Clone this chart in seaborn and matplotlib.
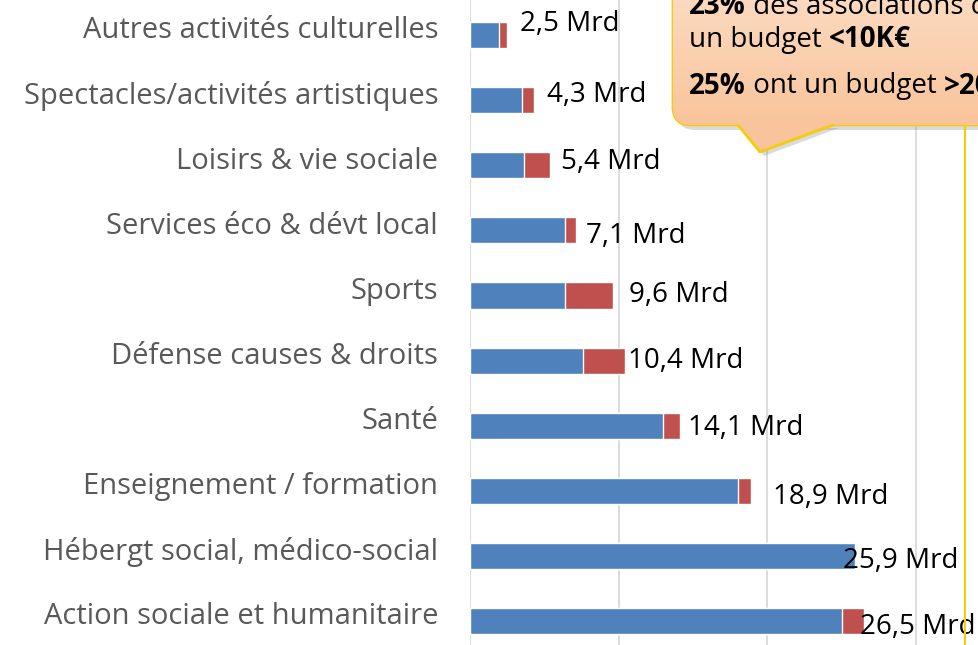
import numpy as np
import matplotlib.pyplot as plt
import seaborn as sns
from matplotlib.patches import FancyBboxPatch, Polygon
from matplotlib.colors import LinearSegmentedColormap

# Data (Mrd €)
categories = ["Autres activités culturelles", "Spectacles/activités artistiques",
              "Loisirs & vie sociale", "Services éco & dévt local", "Sports",
              "Défense causes & droits", "Santé", "Enseignement / formation",
              "Hébergt social, médico-social", "Action sociale et humanitaire"]
blue_part = [1.95, 3.5, 3.6, 6.4, 6.4, 7.6, 13.0, 18.0, 25.9, 25.0]
red_part = [0.55, 0.8, 1.8, 0.7, 3.2, 2.8, 1.1, 0.9, 0.0, 1.5]
value_labels = ["2,5 Mrd", "4,3 Mrd", "5,4 Mrd", "7,1 Mrd", "9,6 Mrd",
                "10,4 Mrd", "14,1 Mrd", "18,9 Mrd", "25,9 Mrd", "26,5 Mrd"]

# label nudges (pixels) as placed in the original
label_dx = [13, 13, 11, 10, 16, 3, 8, 22, -12, -4]
label_dy = [11, 5, 3, -6, 0, 0, -2, -6, -5, -6]

BLUE = "#4F81BD"
RED = "#C0504D"
YELLOW = "#F2CD0A"
FONT = "Open Sans"

totals = [b + r for b, r in zip(blue_part, red_part)]

sns.set_style("white")
plt.rcParams["font.family"] = [FONT, "DejaVu Sans"]

W, H = 979, 645
fig = plt.figure(figsize=(W / 100, H / 100), dpi=100)
ax = fig.add_axes([470 / W, 0, 1 - 470 / W, 1])

sns.barplot(x=totals, y=categories, orient="h", color=RED, saturation=1,
            width=0.4, ax=ax)
sns.barplot(x=blue_part, y=categories, orient="h", color=BLUE, saturation=1,
            width=0.4, ax=ax)

ax.set_xlim(0, (W - 470) / 14.87)
ax.set_ylim(9.37, -0.54)
ax.set_xticks([0, 10, 20, 30])
ax.set_xticklabels([])
ax.grid(axis="x", color="#D9D9D9", lw=1.3)
ax.set_axisbelow(True)
for s in ax.spines.values():
    s.set_visible(False)
ax.set_yticks(np.arange(len(categories)) - 0.12, categories)
ax.tick_params(axis="y", length=0, pad=23, labelsize=21, labelcolor="#595959")
ax.tick_params(axis="x", length=0)
ax.set_xlabel("")
ax.set_ylabel("")

for i, (tot, lbl) in enumerate(zip(totals, value_labels)):
    ax.annotate(lbl, xy=(tot, i), xytext=(label_dx[i], label_dy[i]),
                textcoords="offset pixels", ha="left", va="center",
                fontsize=20, color="black")

# callout overlay in pixel coords
ov = fig.add_axes([0, 0, 1, 1], zorder=5)
ov.set_xlim(0, W)
ov.set_ylim(H, 0)
ov.axis("off")
ov.patch.set_alpha(0)

bx, by, bw, bh = 673, -80, 420, 205
shadow = FancyBboxPatch((bx + 4, by + 5), bw, bh, boxstyle="round,pad=0,rounding_size=18",
                        fc="#999999", ec="none", alpha=0.35)
ov.add_patch(shadow)
ov.add_patch(Polygon([(742, 128), (764, 156), (839, 128)], fc="#999999", ec="none", alpha=0.35))

box = FancyBboxPatch((bx, by), bw, bh, boxstyle="round,pad=0,rounding_size=18",
                     fc="#FBD3B3", ec=YELLOW, lw=2)
ov.add_patch(box)
cmap = LinearSegmentedColormap.from_list("peach", ["#FDE7D6", "#F9C49B"])
grad = np.linspace(0, 1, 256).reshape(-1, 1)
img = ov.imshow(grad, cmap=cmap, extent=(bx, bx + bw, by + bh, by), aspect="auto",
                zorder=2)
img.set_clip_path(box)
ov.add_patch(Polygon([(736, 123), (760, 152), (835, 123)], fc="#F9C49B", ec="none", zorder=3))
ov.plot([738, 760, 833], [125, 152, 125], color=YELLOW, lw=2, zorder=4)
ov.plot([965, 965], [125, H], color=YELLOW, lw=1.5, zorder=1)
ov.set_xlim(0, W)
ov.set_ylim(H, 0)

fs = 20
lines = [
    [("23%", "bold"), (" des associations ont", "normal")],
    [("un budget ", "normal"), ("<10K€", "bold")],
    [("25%", "bold"), (" ont un budget ", "normal"), (">200K€", "bold")],
]
ys = [7, 40, 86]
for parts, y in zip(lines, ys):
    prev = None
    for txt, wgt in parts:
        if prev is None:
            prev = ov.text(689, y, txt, fontsize=fs, fontweight=wgt, va="center",
                           ha="left", color="black", zorder=6)
        else:
            prev = ov.annotate(txt, xy=(1, 0), xycoords=prev, va="bottom", ha="left",
                               fontsize=fs, fontweight=wgt, color="black", zorder=6)

fig.savefig("out.png", dpi=100)
